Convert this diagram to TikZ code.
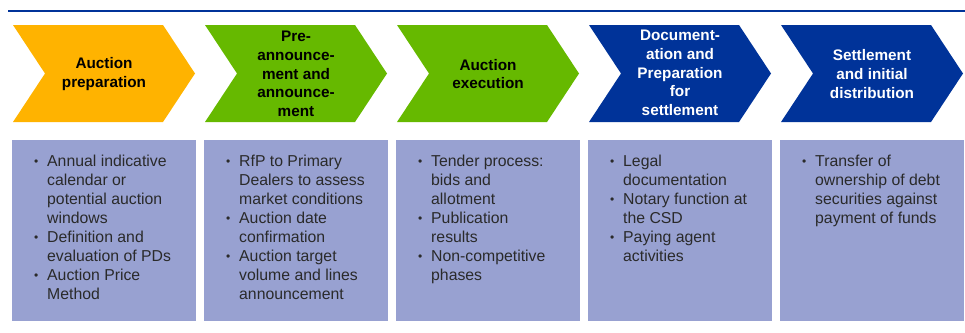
\documentclass[tikz,border=0pt]{standalone}
\usepackage{fontspec}
\setmainfont{Liberation Sans}
\definecolor{orng}{HTML}{FFB300}
\definecolor{grn}{HTML}{66B900}
\definecolor{navy}{HTML}{003399}
\definecolor{lav}{HTML}{98A1D1}
\definecolor{txt}{HTML}{2A2A2A}
\newcommand{\bi}{\makebox[13pt][l]{\raisebox{1pt}{\fontsize{12}{12}\selectfont\textbullet}}}
\newcommand{\ci}{\hspace*{13pt}}
\begin{document}
\begin{tikzpicture}[x=1pt,y=-1pt,
  chevtxt/.style={align=center,font=\fontsize{15.3}{18.6}\selectfont\bfseries,inner sep=0pt},
  body/.style={align=left,anchor=north west,text=txt,font=\fontsize{15.8}{19}\selectfont,inner sep=0pt},
  topline/.style={navy,line width=2.5pt}]
\useasboundingbox (0,0) rectangle (965,332);
\coordinate (la) at (8,11);
\coordinate (lb) at (965,11);
\draw[topline] (la) -- (lb);
\foreach \i/\c in {0/orng,1/grn,2/grn,3/navy,4/navy}{
  \pgfmathsetmacro\L{13+192*\i}
  \fill[\c] (\L,25) -- ++(150,0) -- ++(32,48.5) -- ++(-32,48.5) -- ++(-150,0) -- ++(32,-48.5) -- cycle;
  \fill[lav] (\L-1,140) rectangle ++(184,181);
}
\node[chevtxt] (c1) at (104,74) {Auction\\preparation};
\node[chevtxt] (c2) at (296,74) {Pre-\\announce-\\ment and\\announce-\\ment};
\node[chevtxt] (c3) at (488,74) {Auction\\execution};
\node[chevtxt,text=white] (c4) at (680,73) {Document-\\ation and\\Preparation\\for\\settlement};
\node[chevtxt,text=white] (c5) at (872,74) {Settlement\\and initial\\distribution};
\node[body] (b1) at (34,155) {\bi Annual indicative\\ \ci calendar or\\ \ci potential auction\\ \ci windows\\ \bi Definition and\\ \ci evaluation of PDs\\ \bi Auction Price\\ \ci Method};
\node[body] (b2) at (226,155) {\bi RfP to Primary\\ \ci Dealers to assess\\ \ci market conditions\\ \bi Auction date\\ \ci confirmation\\ \bi Auction target\\ \ci volume and lines\\ \ci announcement};
\node[body] (b3) at (418,155) {\bi Tender process:\\ \ci bids and\\ \ci allotment\\ \bi Publication\\ \ci results\\ \bi Non-competitive\\ \ci phases};
\node[body] (b4) at (610,155) {\bi Legal\\ \ci documentation\\ \bi Notary function at\\ \ci the CSD\\ \bi Paying agent\\ \ci activities};
\node[body] (b5) at (802,155) {\bi Transfer of\\ \ci ownership of debt\\ \ci securities against\\ \ci payment of funds};
\end{tikzpicture}
\end{document}
